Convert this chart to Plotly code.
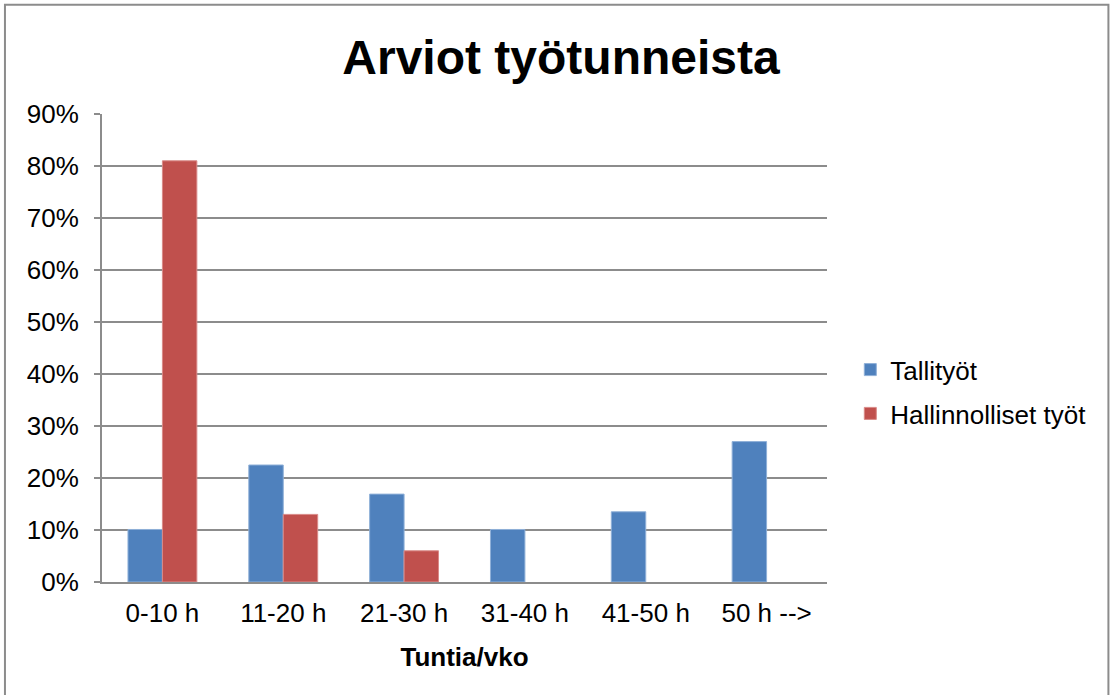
import plotly.graph_objects as go

categories = ["0-10 h", "11-20 h", "21-30 h", "31-40 h", "41-50 h", "50 h -->"]
tallityot = [10.1, 22.5, 16.9, 10.1, 13.5, 27.0]
hallinnolliset = [81.0, 13.0, 6.0, None, None, None]
y_ticks = [0, 10, 20, 30, 40, 50, 60, 70, 80, 90]
y_labels = [f"{v}%" for v in y_ticks]

W, H = 1113, 695
OFF = 0  # body margin removed by post_script below
# plot area in screen pixels
L, R, T, B = 102, 826.7, 114.3, 582.3
pw, ph = R - L, B - T

def px(x):
    return (x - L) / pw

def py(y):
    return (B - y) / ph

FONT = "Liberation Sans, Arial, sans-serif"
GRID = "#8c8c8c"
FS = 26

fig = go.Figure()
fig.add_trace(go.Bar(name="Tallityöt", x=categories, y=tallityot, legendgroup="a",
                     marker=dict(color="#4f81bd", line=dict(color="#8fb0d8", width=1))))
fig.add_trace(go.Bar(name="Hallinnolliset työt", x=categories, y=hallinnolliset, legendgroup="b",
                     marker=dict(color="#c0504d", line=dict(color="#d98a88", width=1))))

fig.update_layout(
    width=W, height=H,
    margin=dict(l=L - OFF, r=W - (R - OFF), t=T - OFF, b=H - (B - OFF), pad=0, autoexpand=False),
    paper_bgcolor="white", plot_bgcolor="white",
    barmode="group", bargap=0.43, bargroupgap=0,
    font=dict(family=FONT, size=FS, color="black"),
    title=dict(text="<b>Arviot työtunneista</b>", x=(561 - OFF) / W, xanchor="center",
               y=1 - (57 - OFF) / H, yanchor="middle", font=dict(size=48, family=FONT)),
    legend=dict(x=px(850), xanchor="left", y=py(392), yanchor="middle",
                font=dict(size=FS), itemwidth=30, tracegroupgap=7, traceorder="grouped",
                bgcolor="rgba(0,0,0,0)"),
    showlegend=True,
    xaxis=dict(showgrid=False, showline=True, linecolor=GRID, linewidth=2,
               ticks="", ticklabelstandoff=7, tickfont=dict(size=FS), automargin=False,
               title=dict(text="<b>Tuntia/vko</b>", font=dict(size=FS), standoff=21)),
    yaxis=dict(range=[0, 90], tickvals=y_ticks, ticktext=y_labels,
               showgrid=True, gridcolor=GRID, gridwidth=2, automargin=False,
               showline=True, linecolor=GRID, linewidth=2,
               ticks="outside", ticklen=6, tickcolor=GRID, tickwidth=2,
               ticklabelstandoff=10, tickfont=dict(size=FS), zeroline=False),
    shapes=[dict(type="rect", xref="paper", yref="paper",
                 x0=px(5), x1=px(1108), y0=py(5), y1=py(720),
                 line=dict(color="#8c8c8c", width=2), layer="below")],
)

fig.write_html("out.html", config={"displayModeBar": False},
               post_script="document.body.style.margin='0';document.body.style.overflow='hidden';")
